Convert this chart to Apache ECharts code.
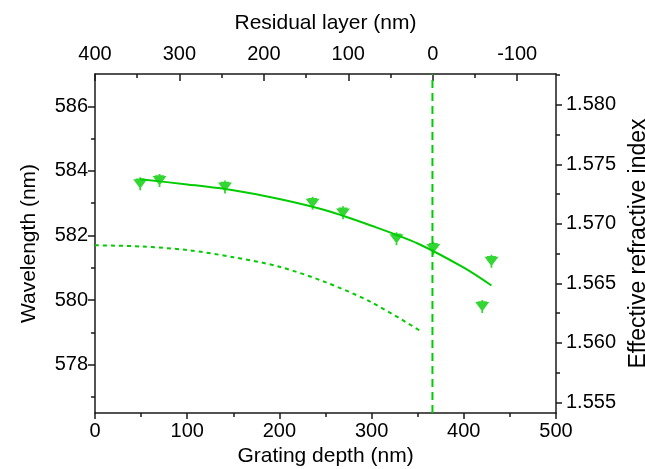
<!DOCTYPE html>
<html>
<head>
<meta charset="utf-8">
<script src="https://cdn.jsdelivr.net/npm/echarts@6/dist/echarts.min.js"></script>
<style>html,body{margin:0;padding:0;background:#fff}#c{width:645px;height:469px}</style>
</head>
<body>
<div id="c"></div>
<script>
// ---- data ----
const DEPTH_POINTS = [49, 70, 141, 236, 269, 327, 367, 420, 430];
const WAVELENGTH_POINTS = [583.6, 583.7, 583.5, 583.0, 582.7, 581.9, 581.6, 579.8, 581.2];
const FIT_DEPTH = [49, 100, 150, 200, 250, 300, 350, 400, 430];
const FIT_WAVELENGTH = [583.74, 583.58, 583.40, 583.13, 582.78, 582.30, 581.75, 581.00, 580.45];
const SIM_DEPTH = [0, 50, 100, 150, 200, 250, 300, 355];
const SIM_INDEX = [1.5682, 1.5681, 1.5678, 1.5672, 1.5664, 1.5651, 1.5634, 1.5609];
const ZERO_RESIDUAL_DEPTH = 366;

const BOTTOM_TICKS = [0, 100, 200, 300, 400, 500];
const BOTTOM_MINOR = [50, 150, 250, 350, 450];
const TOP_TICKS = [400, 300, 200, 100, 0, -100];
const TOP_MINOR = [350, 250, 150, 50, -50];
const LEFT_TICKS = [578, 580, 582, 584, 586];
const LEFT_MINOR = [577, 579, 581, 583, 585];
const RIGHT_TICKS = [1.555, 1.560, 1.565, 1.570, 1.575, 1.580];
const RIGHT_MINOR = [1.5575, 1.5625, 1.5675, 1.5725, 1.5775, 1.5825];

const X_RANGE = [0, 500];
const TOP_RANGE = [-146, 400];
const LEFT_RANGE = [576.5, 587];
const RIGHT_RANGE = [1.5541, 1.5826];

const GREEN = '#00cc00';
const FONT = 'Liberation Sans';
const AX = '#1a1a1a';

function toPairs(xs, ys) { return xs.map((x, i) => [x, ys[i]]); }

const lineStyle = { color: AX, width: 1.5 };
const labelStyle = { color: '#000', fontSize: 20, fontFamily: FONT };
const nameStyle = { color: '#000', fontSize: 21, fontFamily: FONT };

function majorAxis(extra) {
  return Object.assign({
    type: 'value',
    axisLine: { show: true, onZero: false, lineStyle: lineStyle },
    splitLine: { show: false },
    nameTextStyle: nameStyle,
    nameLocation: 'middle'
  }, extra);
}
function minorAxis(extra) {
  return Object.assign({
    type: 'value',
    axisLine: { show: false, onZero: false },
    splitLine: { show: false },
    axisLabel: { show: false }
  }, extra);
}

const chart = echarts.init(document.getElementById('c'), null, { renderer: 'canvas' });
chart.setOption({
  animation: false,
  backgroundColor: '#fff',
  grid: { left: 95, right: 89, top: 74, bottom: 56, containLabel: false, outerBoundsMode: 'none' },
  xAxis: [
    majorAxis({
      position: 'bottom', min: X_RANGE[0], max: X_RANGE[1],
      name: 'Grating depth (nm)', nameGap: 31,
      axisTick: { show: true, inside: false, length: 6, lineStyle: lineStyle, customValues: BOTTOM_TICKS },
      axisLabel: Object.assign({ margin: 8, customValues: BOTTOM_TICKS }, labelStyle)
    }),
    majorAxis({
      position: 'top', min: TOP_RANGE[0], max: TOP_RANGE[1], inverse: true,
      name: 'Residual layer (nm)', nameGap: 40,
      axisTick: { show: true, inside: true, length: 7, lineStyle: lineStyle, customValues: TOP_TICKS },
      axisLabel: Object.assign({ margin: 10, customValues: TOP_TICKS }, labelStyle)
    }),
    minorAxis({
      position: 'bottom', min: X_RANGE[0], max: X_RANGE[1],
      axisTick: { show: true, inside: false, length: 4, lineStyle: lineStyle, customValues: BOTTOM_MINOR }
    }),
    minorAxis({
      position: 'top', min: TOP_RANGE[0], max: TOP_RANGE[1], inverse: true,
      axisTick: { show: true, inside: true, length: 4, lineStyle: lineStyle, customValues: TOP_MINOR }
    })
  ],
  yAxis: [
    majorAxis({
      position: 'left', min: LEFT_RANGE[0], max: LEFT_RANGE[1],
      name: 'Wavelength (nm)', nameGap: 55,
      axisTick: { show: true, inside: false, length: 7, lineStyle: lineStyle, customValues: LEFT_TICKS },
      axisLabel: Object.assign({ margin: 7, customValues: LEFT_TICKS }, labelStyle)
    }),
    majorAxis({
      position: 'right', min: RIGHT_RANGE[0], max: RIGHT_RANGE[1],
      name: 'Effective refractive index', nameGap: 70,
      nameTextStyle: { color: '#000', fontSize: 23, fontFamily: FONT },
      axisTick: { show: true, inside: false, length: 6, lineStyle: lineStyle, customValues: RIGHT_TICKS },
      axisLabel: Object.assign({ margin: 10, customValues: RIGHT_TICKS, formatter: v => Number(v).toFixed(3) }, labelStyle)
    }),
    minorAxis({
      position: 'left', min: LEFT_RANGE[0], max: LEFT_RANGE[1],
      axisTick: { show: true, inside: false, length: 4, lineStyle: lineStyle, customValues: LEFT_MINOR }
    }),
    minorAxis({
      position: 'right', min: RIGHT_RANGE[0], max: RIGHT_RANGE[1],
      axisTick: { show: true, inside: false, length: 4, lineStyle: lineStyle, customValues: RIGHT_MINOR }
    })
  ],
  series: [
    {
      type: 'line', xAxisIndex: 0, yAxisIndex: 1,
      data: toPairs(SIM_DEPTH, SIM_INDEX),
      showSymbol: false, smooth: 0.3,
      lineStyle: { color: GREEN, width: 2, type: [4, 4] },
      z: 2
    },
    {
      type: 'line', xAxisIndex: 0, yAxisIndex: 0,
      data: toPairs(FIT_DEPTH, FIT_WAVELENGTH),
      showSymbol: false, smooth: 0.3,
      lineStyle: { color: GREEN, width: 2 },
      z: 3
    },
    {
      type: 'line', xAxisIndex: 0, yAxisIndex: 0,
      data: [[ZERO_RESIDUAL_DEPTH, LEFT_RANGE[0]], [ZERO_RESIDUAL_DEPTH, LEFT_RANGE[1]]],
      showSymbol: false,
      lineStyle: { color: GREEN, width: 2, type: [8, 5] },
      z: 2
    },
    {
      type: 'scatter', xAxisIndex: 0, yAxisIndex: 0,
      data: toPairs(DEPTH_POINTS, WAVELENGTH_POINTS),
      symbol: 'path://M0.5,2 L11.5,2 L6,11 Z M5.3,0 L6.7,0 L6.7,12.5 L5.3,12.5 Z M2.5,1.2 L9.5,1.2 L9.5,2.6 L2.5,2.6 Z',
      symbolSize: [14, 13],
      itemStyle: { color: GREEN },
      z: 4
    }
  ]
});
</script>
</body>
</html>
